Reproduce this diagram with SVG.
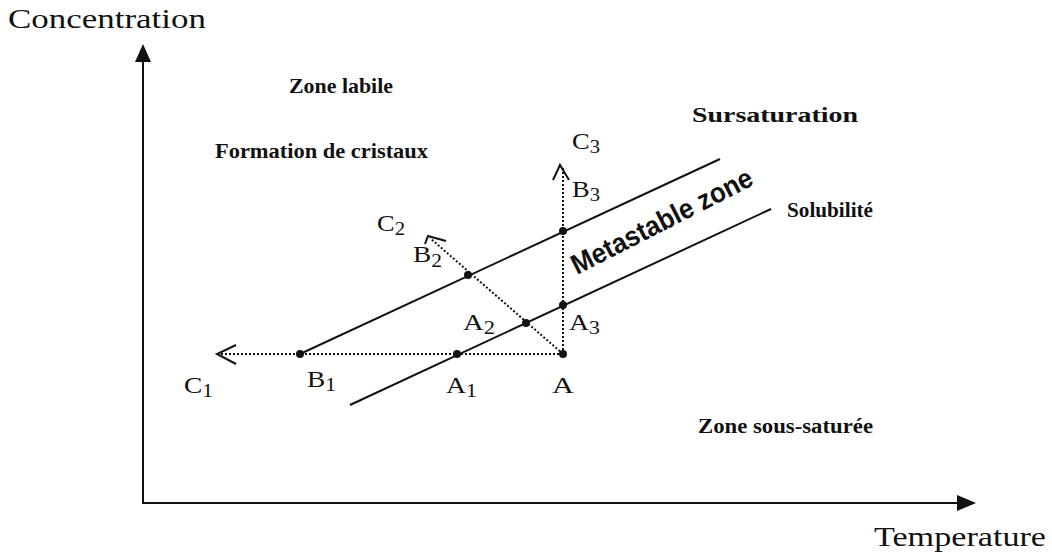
<svg xmlns="http://www.w3.org/2000/svg" width="1052" height="556" viewBox="0 0 1052 556">
<style>
.t{font-family:"Liberation Serif",serif;fill:#111}
.b{font-weight:bold}
.lab{font-family:"Liberation Serif",serif;font-size:23px;fill:#111}
.sub{font-size:18px}
.ln{stroke:#111;stroke-width:2;fill:none}
.dot{stroke:#111;stroke-width:2;fill:none;stroke-dasharray:2 2}
.chev{stroke:#111;stroke-width:2;fill:none}
</style>
<rect width="1052" height="556" fill="#fff"/>
<g id="axes">
<line class="ln" x1="143" y1="503" x2="143" y2="58" stroke-width="2.5"/>
<polygon points="143,44 135,62 151,62" fill="#111"/>
<line class="ln" x1="142" y1="503" x2="960" y2="503" stroke-width="2.5"/>
<polygon points="976,503 957,495 957,511" fill="#111"/>
<text class="t" x="8" y="28" font-size="27" textLength="198" lengthAdjust="spacingAndGlyphs">Concentration</text>
<text class="t" x="874" y="546" font-size="27" textLength="172" lengthAdjust="spacingAndGlyphs">Temperature</text>
</g>
<g id="connectors">
<line id="sursaturation-line" class="ln" x1="300" y1="354" x2="720" y2="159"/>
<line id="solubilite-line" class="ln" x1="350" y1="405" x2="771" y2="209"/>
<line class="dot" x1="563" y1="354" x2="217" y2="354"/>
<polyline class="chev" points="236,345 217,354 236,364"/>
<line class="dot" x1="563" y1="354" x2="563" y2="166"/>
<polyline class="chev" points="553,180 560,165 569,180"/>
<line class="dot" x1="563" y1="354" x2="430" y2="238"/>
<polyline class="chev" points="425,244 428,236 446,241"/>
</g>
<g id="points">
<circle cx="300" cy="354" r="4" fill="#111"/>
<circle cx="457" cy="354" r="4" fill="#111"/>
<circle cx="563" cy="354" r="4" fill="#111"/>
<circle cx="526" cy="323" r="4" fill="#111"/>
<circle cx="563" cy="305" r="4" fill="#111"/>
<circle cx="563" cy="231" r="4" fill="#111"/>
<circle cx="468" cy="275" r="4" fill="#111"/>
</g>
<g id="labels">
<text class="lab" x="184" y="393" textLength="29" lengthAdjust="spacingAndGlyphs">C<tspan class="sub" dy="4">1</tspan></text>
<text class="lab" x="307" y="387" textLength="29" lengthAdjust="spacingAndGlyphs">B<tspan class="sub" dy="4">1</tspan></text>
<text class="lab" x="446" y="393" textLength="31" lengthAdjust="spacingAndGlyphs">A<tspan class="sub" dy="4">1</tspan></text>
<text class="lab" x="552" y="393" textLength="22" lengthAdjust="spacingAndGlyphs">A</text>
<text class="lab" x="463" y="330" textLength="32" lengthAdjust="spacingAndGlyphs">A<tspan class="sub" dy="4">2</tspan></text>
<text class="lab" x="569" y="330" textLength="31" lengthAdjust="spacingAndGlyphs">A<tspan class="sub" dy="4">3</tspan></text>
<text class="lab" x="413" y="262" textLength="29" lengthAdjust="spacingAndGlyphs">B<tspan class="sub" dy="5">2</tspan></text>
<text class="lab" x="377" y="231" textLength="28" lengthAdjust="spacingAndGlyphs">C<tspan class="sub" dy="4">2</tspan></text>
<text class="lab" x="572" y="197" textLength="28" lengthAdjust="spacingAndGlyphs">B<tspan class="sub" dy="4">3</tspan></text>
<text class="lab" x="572" y="149" textLength="28" lengthAdjust="spacingAndGlyphs">C<tspan class="sub" dy="4">3</tspan></text>
</g>
<g id="zones">
<text class="t b" x="289" y="93" font-size="22" textLength="104" lengthAdjust="spacingAndGlyphs">Zone labile</text>
<text class="t b" x="215" y="158" font-size="22" textLength="213" lengthAdjust="spacingAndGlyphs">Formation de cristaux</text>
<text class="t b" x="692" y="122" font-size="22" textLength="166" lengthAdjust="spacingAndGlyphs">Sursaturation</text>
<text class="t b" x="787" y="217" font-size="20" textLength="86" lengthAdjust="spacingAndGlyphs">Solubilité</text>
<text class="t b" x="698" y="433" font-size="20" textLength="175" lengthAdjust="spacingAndGlyphs">Zone sous-saturée</text>
<text x="577" y="275" font-family="'Liberation Sans Narrow','Liberation Sans',sans-serif" font-weight="bold" font-size="28" fill="#111" textLength="200" lengthAdjust="spacingAndGlyphs" transform="rotate(-27 577 275)">Metastable zone</text>
</g>
</svg>
